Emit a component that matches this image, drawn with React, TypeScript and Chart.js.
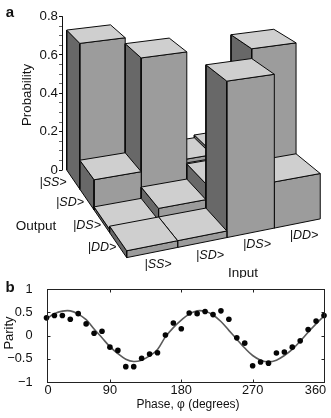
import React, { useEffect, useRef } from "react";
import { Chart, registerables } from "chart.js";

Chart.register(...registerables);

const FONT = "'Liberation Sans', Arial, sans-serif";

// ---------- panel a data ----------
const inputStates = ["|SS>", "|SD>", "|DS>", "|DD>"];
const outputStates = ["|SS>", "|SD>", "|DS>", "|DD>"];
const outputSS = [0.73, 0.02, 0.06, 0.075];
const outputSD = [0.145, 0.7, 0.04, 0.03];
const outputDS = [0.015, 0.07, 0.145, 0.757];
const outputDD = [0.03, 0.03, 0.71, 0.213];
const probabilityRows = [outputSS, outputSD, outputDS, outputDD];
const probabilityTicks = [0, 0.05, 0.1, 0.15, 0.2, 0.25, 0.3, 0.35, 0.4, 0.45, 0.5, 0.55, 0.6, 0.65, 0.7, 0.75, 0.8];

// ---------- panel b data ----------
const phase = [10, 20, 30, 40, 50, 60, 70, 80, 90, 100, 110, 120, 130, 140, 150, 160, 170, 180, 190, 200, 210, 220, 230, 240, 250, 260, 270, 280, 290, 300, 310, 320, 330, 340, 350, 360];
const parityMeasured = [0.38, 0.43, 0.43, 0.35, 0.47, 0.25, 0.05, 0.09, -0.25, -0.32, -0.67, -0.67, -0.49, -0.4, -0.37, 0.01, 0.27, 0.145, 0.485, 0.47, 0.515, 0.45, 0.53, 0.35, -0.05, -0.165, -0.65, -0.57, -0.595, -0.375, -0.355, -0.25, -0.115, 0.13, 0.31, 0.43];
const parityFit = [0.36, 0.47, 0.525, 0.53, 0.46, 0.34, 0.14, -0.05, -0.24, -0.39, -0.51, -0.56, -0.53, -0.44, -0.3, -0.03, 0.17, 0.33, 0.46, 0.53, 0.52, 0.44, 0.3, 0.11, -0.08, -0.27, -0.43, -0.53, -0.565, -0.53, -0.43, -0.3, -0.12, 0.07, 0.25, 0.42];
const phaseTickValues = [10, 90, 180, 270, 360];
const phaseTickLabels = ["0", "90", "180", "270", "360"];
const parityTicks = [-1, -0.5, 0, 0.5, 1];

// ---------- perspective of the 3D bars ----------
const view = { x0: 66.7, xi: 45.45, xj: 9.93, y0: 170, yi: -4.85, yj: 11.6, unit: 191.7, wi: 0.015, wj: -0.04 };
const projectX = (i: number, j: number) => (view.x0 + view.xi * i + view.xj * j) / (1 + view.wi * i + view.wj * j);
const project = (i: number, j: number, z: number) => {
  const w = 1 + view.wi * i + view.wj * j;
  const py = (view.y0 + view.yi * i + view.yj * j - view.unit * z) / w;
  return { x: projectX(i, j), y: (view.y0 - py) / view.unit };
};

const A_W = 331;
const A_H = 278;
const A_LEFT = 62;

function buildBarFaces() {
  const faces: any[] = [];
  const face = (pts: { x: number; y: number }[], color: string) =>
    faces.push({
      type: "line",
      data: [...pts, pts[0]],
      borderColor: "#0a0a0a",
      borderWidth: 1,
      backgroundColor: color,
      fill: "shape",
      pointRadius: 0,
      tension: 0,
      borderJoinStyle: "miter",
      clip: false,
    });
  probabilityRows.forEach((row, j) => {
    for (let i = row.length - 1; i >= 0; i--) {
      const z = row[i];
      face([project(i, j, 0), project(i, j + 1, 0), project(i, j + 1, z), project(i, j, z)], "#686868");
      face([project(i, j + 1, 0), project(i + 1, j + 1, 0), project(i + 1, j + 1, z), project(i, j + 1, z)], "#9c9c9c");
      face([project(i, j, z), project(i + 1, j, z), project(i + 1, j + 1, z), project(i, j + 1, z)], "#cfcfcf");
    }
  });
  return faces.reverse(); // dataset 0 is painted last
}

function drawText(ctx: CanvasRenderingContext2D, text: string, x: number, y: number, font: string, rotate = 0) {
  ctx.save();
  ctx.font = font;
  ctx.fillStyle = "#111";
  ctx.textAlign = "center";
  ctx.textBaseline = "middle";
  ctx.translate(x, y);
  ctx.rotate(rotate);
  ctx.fillText(text, 0, 0);
  ctx.restore();
}

const outputLabelAt = [[53, 183], [70, 203], [87, 226], [102, 248]];
const inputLabelAt = [[158, 265], [210, 256], [257, 245], [304, 236]];

const panelAText = {
  id: "panelAText",
  afterDraw(chart: any) {
    const { ctx } = chart;
    const y = chart.scales.y;
    ctx.save();
    ctx.strokeStyle = "#111";
    ctx.lineWidth = 1;
    ctx.beginPath();
    ctx.moveTo(A_LEFT + 0.5, y.getPixelForValue(0.8) - 0.5);
    ctx.lineTo(A_LEFT + 0.5, y.getPixelForValue(0) + 0.5);
    ctx.stroke();
    ctx.restore();
    const ket = `italic 12.5px ${FONT}`;
    const plain = `13.5px ${FONT}`;
    outputStates.forEach((s, k) => drawText(ctx, s, outputLabelAt[k][0], outputLabelAt[k][1], ket));
    inputStates.forEach((s, k) => drawText(ctx, s, inputLabelAt[k][0], inputLabelAt[k][1], ket));
    drawText(ctx, "Output", 36, 226, plain);
    drawText(ctx, "Input", 243, 273, plain);
    drawText(ctx, "Probability", 27, 95, `13.3px ${FONT}`, -Math.PI / 2);
    drawText(ctx, "a", 10, 12.5, `bold 15px ${FONT}`);
  },
};

const panelBDecor = {
  id: "panelBDecor",
  afterDraw(chart: any) {
    const { ctx, chartArea: a } = chart;
    const { x, y } = chart.scales;
    ctx.save();
    ctx.strokeStyle = "#222";
    ctx.lineWidth = 1;
    const L = Math.round(a.left) + 0.5;
    const R = Math.round(a.right) + 0.5;
    const T = Math.round(a.top) + 0.5;
    const B = Math.round(a.bottom) + 0.5;
    ctx.strokeRect(L, T, R - L, B - T);
    ctx.beginPath();
    phaseTickValues.forEach((v) => {
      const px = Math.round(x.getPixelForValue(v)) + 0.5;
      ctx.moveTo(px, T);
      ctx.lineTo(px, T + 3);
      ctx.moveTo(px, B);
      ctx.lineTo(px, B - 3);
    });
    parityTicks.forEach((v) => {
      const py = Math.round(y.getPixelForValue(v)) + 0.5;
      ctx.moveTo(L, py);
      ctx.lineTo(L + 3, py);
      ctx.moveTo(R, py);
      ctx.lineTo(R - 3, py);
    });
    ctx.stroke();
    ctx.restore();
    const tickFont = `12.8px ${FONT}`;
    phaseTickValues.forEach((v, k) => {
      let px = x.getPixelForValue(v);
      if (k === 0) px += 1.5;
      if (k === phaseTickValues.length - 1) px -= 8.5;
      drawText(ctx, phaseTickLabels[k], px, 112.5, tickFont);
    });
    drawText(ctx, "b", 10, 10, `bold 15px ${FONT}`);
    drawText(ctx, "Parity", 9.5, 55, `13px ${FONT}`, -Math.PI / 2);
    drawText(ctx, "Phase, φ (degrees)", 188, 127, `12px ${FONT}`);
  },
};

export default function App() {
  const refA = useRef<HTMLCanvasElement>(null);
  const refB = useRef<HTMLCanvasElement>(null);

  useEffect(() => {
    Chart.defaults.font.family = FONT;
    const yMax = view.y0 / view.unit;
    const yMin = (view.y0 - A_H) / view.unit;
    const chartA = new Chart(refA.current!, {
      type: "line",
      data: { datasets: buildBarFaces() },
      plugins: [panelAText],
      options: {
        responsive: false,
        animation: false,
        layout: { padding: 0 },
        plugins: { legend: { display: false }, tooltip: { enabled: false } },
        scales: {
          x: { type: "linear", display: false, min: A_LEFT, max: A_W },
          y: {
            type: "linear",
            min: yMin,
            max: yMax,
            border: { display: false },
            grid: {
              drawOnChartArea: false,
              tickLength: 3,
              tickColor: (c: any) => (Math.round(c.tick.value * 100) % 20 === 0 ? "#111" : "#666"),
            },
            afterBuildTicks: (s: any) => {
              s.ticks = probabilityTicks.map((value) => ({ value }));
            },
            afterFit: (s: any) => {
              s.width = A_LEFT;
              s.paddingTop = 0;
              s.paddingBottom = 0;
            },
            ticks: {
              autoSkip: false,
              padding: 1,
              color: "#111",
              font: { size: 13.3 },
              callback: (v: any) => (Math.round(v * 100) % 20 === 0 ? String(+(+v).toFixed(1)) : ""),
            },
          },
        },
      } as any,
    } as any);

    const chartB = new Chart(refB.current!, {
      type: "line",
      data: {
        datasets: [
          {
            data: phase.map((x, k) => ({ x, y: parityMeasured[k] })),
            showLine: false,
            pointRadius: 2.8,
            pointBackgroundColor: "#050505",
            pointBorderWidth: 0,
            clip: false,
          },
          {
            data: phase.map((x, k) => ({ x, y: parityFit[k] })),
            borderColor: "#5a5a5a",
            borderWidth: 1.6,
            pointRadius: 0,
            tension: 0.4,
            clip: false,
          },
        ],
      },
      plugins: [panelBDecor],
      options: {
        responsive: false,
        animation: false,
        layout: { padding: { top: 11, right: 7, left: 0, bottom: 0 } },
        plugins: { legend: { display: false }, tooltip: { enabled: false } },
        scales: {
          x: {
            type: "linear",
            min: 10,
            max: 360,
            grid: { display: false },
            border: { display: false },
            ticks: { display: false },
            afterFit: (s: any) => {
              s.height = 36;
            },
          },
          y: {
            type: "linear",
            min: -1,
            max: 1,
            grid: { display: false },
            border: { display: false },
            afterBuildTicks: (s: any) => {
              s.ticks = parityTicks.map((value) => ({ value }));
            },
            afterFit: (s: any) => {
              s.width = 46.5;
              s.paddingTop = 0;
              s.paddingBottom = 0;
            },
            ticks: {
              autoSkip: false,
              padding: 6,
              color: "#111",
              font: { size: 12.8 },
              callback: (v: any) => String(v).replace("-", "−"),
            },
          },
        },
      } as any,
    } as any);

    return () => {
      chartA.destroy();
      chartB.destroy();
    };
  }, []);

  return (
    <div style={{ position: "absolute", left: 0, top: 0, width: 331, height: 418, background: "#fff", overflow: "hidden" }}>
      <canvas ref={refA} width={A_W} height={A_H} style={{ position: "absolute", left: 0, top: 0, display: "block" }} />
      <canvas ref={refB} width={331} height={140} style={{ position: "absolute", left: 0, top: A_H, display: "block" }} />
    </div>
  );
}
